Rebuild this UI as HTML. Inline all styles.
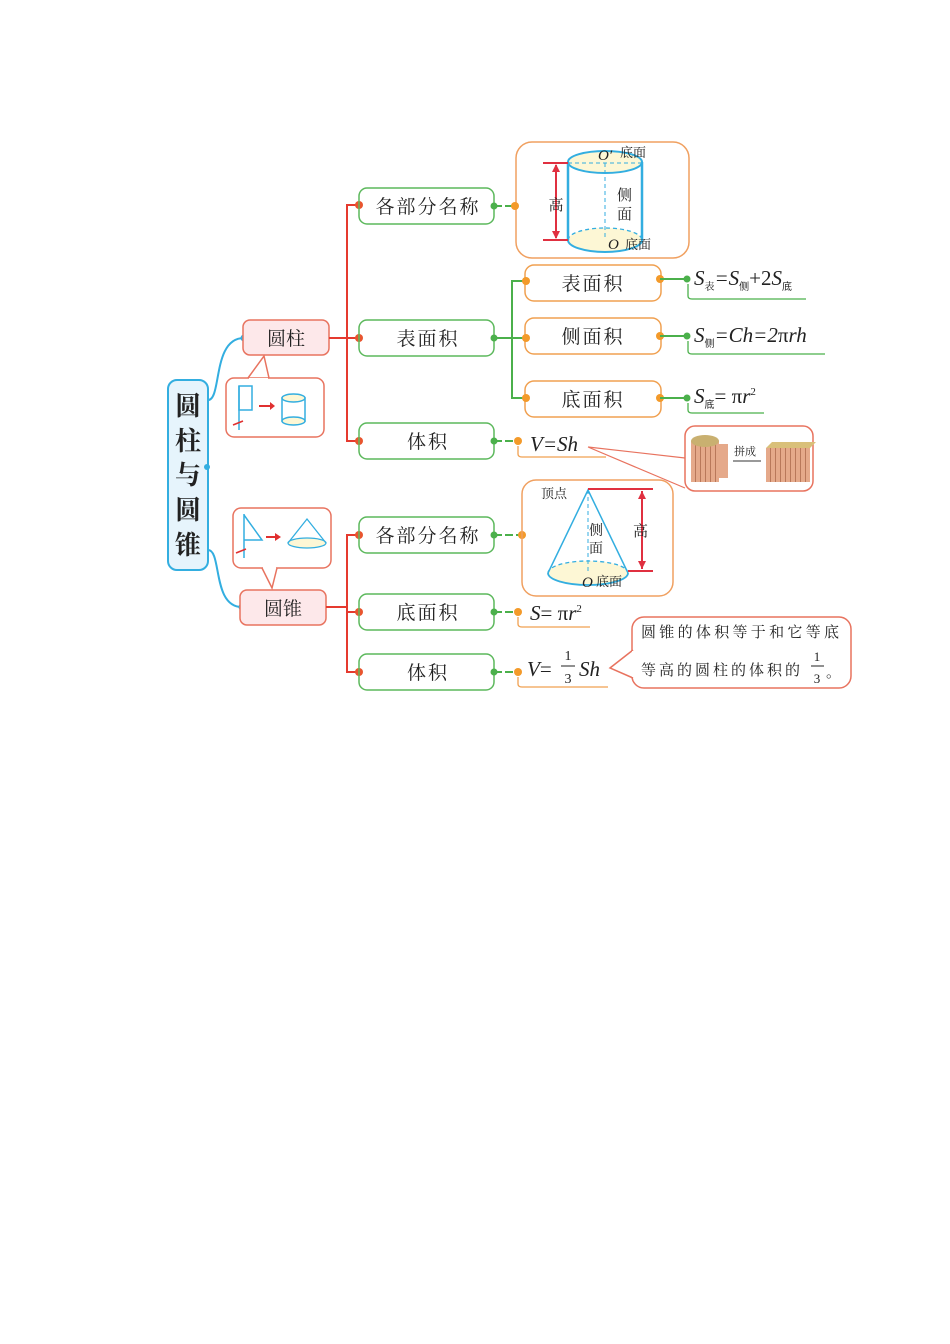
<!DOCTYPE html>
<html><head><meta charset="utf-8"><style>
html,body{margin:0;padding:0;background:#fff;}
svg{display:block;}
text{font-family:"Liberation Serif","Noto Serif CJK SC",serif;fill:#222;}
.k{font-family:"Noto Serif CJK SC","Liberation Serif",serif;}
.m{font-family:"Liberation Serif",serif;font-style:italic;}
</style></head><body>
<svg width="950" height="1344" viewBox="0 0 950 1344" xmlns="http://www.w3.org/2000/svg">
<defs>
<pattern id="st" width="5" height="10" patternUnits="userSpaceOnUse"><rect width="5" height="10" fill="#e5a98a"/><rect width="1" height="10" fill="#b9785a"/></pattern>
</defs>
<rect x="168" y="380" width="40" height="190" rx="9" fill="#e6f4fc" stroke="#33aee0" stroke-width="2"/>
<g class="k" font-size="26" font-weight="bold" text-anchor="middle">
<text x="188" y="415" class="k">圆</text><text x="188" y="450" class="k">柱</text><text x="188" y="484" class="k">与</text><text x="188" y="519" class="k">圆</text><text x="188" y="554" class="k">锥</text></g>
<circle cx="207" cy="467" r="3" fill="#33aee0"/>
<path d="M208 400 C222 400 212 338 244 338" fill="none" stroke="#33aee0" stroke-width="2"/>
<path d="M208 550 C222 550 212 607 242 607" fill="none" stroke="#33aee0" stroke-width="2"/>
<circle cx="244" cy="338" r="3.5" fill="#33aee0"/><circle cx="242" cy="607" r="3.5" fill="#33aee0"/>
<rect x="243" y="320" width="86" height="35" rx="7" fill="#fde8ea" stroke="#e8735f" stroke-width="1.5"/>
<text x="286" y="345" font-size="19" text-anchor="middle" class="k">圆柱</text>
<path d="M248 378 L264 356 L269 378" fill="#fff" stroke="#e8735f" stroke-width="1.5"/>
<rect x="226" y="378" width="98" height="59" rx="8" fill="none" stroke="#e8735f" stroke-width="1.5"/>
<line x1="249" y1="379" x2="268" y2="379" stroke="#fff" stroke-width="2"/>
<line x1="239" y1="386" x2="239" y2="430" stroke="#33aee0" stroke-width="1.5"/>
<rect x="239" y="386" width="13" height="24" fill="none" stroke="#33aee0" stroke-width="1.5"/>
<path d="M233 425 l10 -4" stroke="#e03030" stroke-width="1.5"/>
<path d="M259 406 h12" stroke="#e03030" stroke-width="2"/><path d="M270 402 l5 4 -5 4z" fill="#e03030"/>
<rect x="282" y="398" width="23" height="23" fill="#fff" stroke="#33aee0" stroke-width="1.5"/>
<ellipse cx="293.5" cy="398" rx="11.5" ry="4" fill="#fdf7d5" stroke="#33aee0" stroke-width="1.5"/>
<ellipse cx="293.5" cy="421" rx="11.5" ry="4" fill="#fdf7d5" stroke="#33aee0" stroke-width="1.5"/>
<rect x="240" y="590" width="86" height="35" rx="7" fill="#fde8ea" stroke="#e8735f" stroke-width="1.5"/>
<text x="283" y="615" font-size="19" text-anchor="middle" class="k">圆锥</text>
<rect x="233" y="508" width="98" height="60" rx="8" fill="none" stroke="#e8735f" stroke-width="1.5"/>
<path d="M262 568 L272 588 L277 568" fill="#fff" stroke="#e8735f" stroke-width="1.5"/>
<line x1="263" y1="567" x2="276" y2="567" stroke="#fff" stroke-width="2"/>
<line x1="244" y1="514" x2="244" y2="558" stroke="#33aee0" stroke-width="1.5"/>
<path d="M244 515 L262 540 L244 540" fill="none" stroke="#33aee0" stroke-width="1.5"/>
<path d="M236 553 l10 -4" stroke="#e03030" stroke-width="1.5"/>
<path d="M266 537 h10" stroke="#e03030" stroke-width="2"/><path d="M275 533 l6 4 -6 4z" fill="#e03030"/>
<ellipse cx="307" cy="543" rx="19" ry="5" fill="#fdf7d5" stroke="#33aee0" stroke-width="1.3"/>
<path d="M288 543 L307 519 L326 543" fill="none" stroke="#33aee0" stroke-width="1.3"/>
<g stroke="#e53a2f" stroke-width="2" fill="none">
<path d="M329 338 H347 M359 205 H347 V441 H359 M347 338 H359"/>
<path d="M326 607 H347 M359 535 H347 V672 H359 M347 612 H359"/>
</g>
<g fill="#e8552f"><circle cx="359" cy="205" r="4"/><circle cx="359" cy="338" r="4"/><circle cx="359" cy="441" r="4"/><circle cx="359" cy="535" r="4"/><circle cx="359" cy="612" r="4"/><circle cx="359" cy="672" r="4"/></g>
<g fill="none" stroke="#5cb85c" stroke-width="1.5">
<rect x="359" y="188" width="135" height="36" rx="8"/><rect x="359" y="320" width="135" height="36" rx="8"/><rect x="359" y="423" width="135" height="36" rx="8"/>
<rect x="359" y="517" width="135" height="36" rx="8"/><rect x="359" y="594" width="135" height="36" rx="8"/><rect x="359" y="654" width="135" height="36" rx="8"/>
</g>
<g font-size="19" text-anchor="middle" class="k" letter-spacing="2">
<text x="428" y="213" class="k">各部分名称</text><text x="428" y="345" class="k">表面积</text><text x="428" y="448" class="k">体积</text>
<text x="428" y="542" class="k">各部分名称</text><text x="428" y="619" class="k">底面积</text><text x="428" y="679" class="k">体积</text></g>
<g stroke="#4bb04b" stroke-width="2"><path d="M494 206 H514 M494 441 H518 M494 535 H522 M494 612 H518 M494 672 H518" stroke-dasharray="8 3"/></g>
<path d="M494 338 H512 M525 281 H512 V398 H525 M512 338 H525" stroke="#4bb04b" stroke-width="2" fill="none"/>
<g fill="#4bb04b"><circle cx="494" cy="206" r="3.5"/><circle cx="494" cy="338" r="3.5"/><circle cx="494" cy="441" r="3.5"/><circle cx="494" cy="535" r="3.5"/><circle cx="494" cy="612" r="3.5"/><circle cx="494" cy="672" r="3.5"/></g>
<rect x="516" y="142" width="173" height="116" rx="16" fill="none" stroke="#f0a060" stroke-width="1.5"/>
<circle cx="515" cy="206" r="4" fill="#f39a2a"/>
<rect x="569" y="163" width="73" height="78" fill="#fff"/>
<ellipse cx="605" cy="240" rx="37" ry="12" fill="#fdf7d5" stroke="none"/>
<path d="M568 240 A37 12 0 0 1 642 240" fill="none" stroke="#33aee0" stroke-dasharray="4 3" stroke-width="1.3"/>
<path d="M568 240 A37 12 0 0 0 642 240" fill="none" stroke="#33aee0" stroke-width="2"/>
<ellipse cx="605" cy="162" rx="37" ry="11" fill="#fdf7d5" stroke="#33aee0" stroke-width="2"/>
<line x1="568" y1="163" x2="642" y2="163" stroke="#33aee0" stroke-dasharray="4 3"/>
<line x1="605" y1="163" x2="605" y2="240" stroke="#33aee0" stroke-dasharray="4 3"/>
<line x1="568" y1="162" x2="568" y2="240" stroke="#33aee0" stroke-width="2.5"/>
<line x1="642" y1="162" x2="642" y2="240" stroke="#33aee0" stroke-width="2.5"/>
<path d="M543 163 H568 M543 240 H568 M556 165 V238" stroke="#e03040" stroke-width="2"/>
<path d="M552 172 l4 -8 4 8z M552 231 l4 8 4 -8z" fill="#e03040"/>
<text x="556" y="210" font-size="15" text-anchor="middle" class="k">高</text>
<text x="598" y="160" font-size="15" class="m">O′</text><text x="620" y="157" font-size="13" class="k">底面</text>
<text x="617" y="200" font-size="15" class="k">侧</text><text x="617" y="219" font-size="15" class="k">面</text>
<text x="608" y="249" font-size="15" class="m">O</text><text x="625" y="249" font-size="13" class="k">底面</text>
<g fill="none" stroke="#f0a050" stroke-width="1.5">
<rect x="525" y="265" width="136" height="36" rx="9"/><rect x="525" y="318" width="136" height="36" rx="9"/><rect x="525" y="381" width="136" height="36" rx="9"/></g>
<g font-size="19" text-anchor="middle" class="k" letter-spacing="2"><text x="593" y="290" class="k">表面积</text><text x="593" y="343" class="k">侧面积</text><text x="593" y="406" class="k">底面积</text></g>
<g fill="#f39a2a"><circle cx="526" cy="281" r="4"/><circle cx="526" cy="338" r="4"/><circle cx="526" cy="398" r="4"/><circle cx="660" cy="279" r="4"/><circle cx="660" cy="336" r="4"/><circle cx="660" cy="398" r="4"/>
<circle cx="518" cy="441" r="4"/><circle cx="522" cy="535" r="4"/><circle cx="518" cy="612" r="4"/><circle cx="518" cy="672" r="4"/></g>
<path d="M660 279 H687 M660 336 H687 M660 398 H687" stroke="#4bb04b" stroke-width="2"/>
<g fill="#4bb04b"><circle cx="687" cy="279" r="3.5"/><circle cx="687" cy="336" r="3.5"/><circle cx="687" cy="398" r="3.5"/></g>
<g fill="none" stroke="#4bb04b" stroke-width="1.3"><path d="M688 284 V296 Q688 299 692 299 H806"/><path d="M688 341 V351 Q688 354 692 354 H825"/><path d="M688 403 V410 Q688 413 692 413 H764"/></g>
<text x="694" y="285" font-size="21" class="m">S<tspan font-size="10" dy="5" font-style="normal" class="k">表</tspan><tspan dy="-5">=S</tspan><tspan font-size="10" dy="5" font-style="normal">侧</tspan><tspan dy="-5" font-style="normal">+2</tspan><tspan dy="0">S</tspan><tspan font-size="10" dy="5" font-style="normal">底</tspan></text>
<text x="694" y="342" font-size="21" class="m">S<tspan font-size="10" dy="5" font-style="normal">侧</tspan><tspan dy="-5">=Ch=2</tspan><tspan font-style="normal">π</tspan>rh</text>
<text x="694" y="403" font-size="21" class="m">S<tspan font-size="10" dy="5" font-style="normal">底</tspan><tspan dy="-5" font-style="normal">= π</tspan>r<tspan font-size="11" dy="-8" font-style="normal">2</tspan></text>
<path d="M518 446 V454 Q518 457 522 457 H606" fill="none" stroke="#f0a050" stroke-width="1.3"/>
<text x="530" y="451" font-size="21" class="m">V=Sh</text>
<path d="M588 447 L685 488 M588 447 L685 458" stroke="#e8735f" stroke-width="1.2"/>
<rect x="685" y="426" width="128" height="65" rx="10" fill="#fff" stroke="#e8735f" stroke-width="1.5"/>
<rect x="691" y="441" width="28" height="41" fill="url(#st)"/>
<ellipse cx="705" cy="441" rx="14" ry="6" fill="#c9b070"/>
<rect x="719" y="444" width="9" height="34" fill="#e5a98a"/>
<text x="734" y="455" font-size="11" class="k">拼成</text>
<line x1="733" y1="461" x2="761" y2="461" stroke="#333"/>
<rect x="766" y="448" width="44" height="34" fill="url(#st)"/>
<path d="M766 448 l6 -6 h44 l-6 6z" fill="#d9c07a"/>
<rect x="522" y="480" width="151" height="116" rx="14" fill="none" stroke="#f0a060" stroke-width="1.5"/>
<ellipse cx="588" cy="573" rx="40" ry="12" fill="#fdf7d5"/>
<path d="M548 573 A40 12 0 0 1 628 573" fill="none" stroke="#33aee0" stroke-dasharray="4 3" stroke-width="1.3"/>
<path d="M548 573 A40 12 0 0 0 628 573" fill="none" stroke="#33aee0" stroke-width="1.8"/>
<path d="M548 573 L588 490 L628 573" fill="none" stroke="#33aee0" stroke-width="1.5"/>
<line x1="588" y1="490" x2="588" y2="573" stroke="#33aee0" stroke-dasharray="4 3"/>
<path d="M588 489 H653 M628 571 H653 M642 491 V569" stroke="#e03040" stroke-width="2"/>
<path d="M638 499 l4 -8 4 8z M638 561 l4 8 4 -8z" fill="#e03040"/>
<text x="541" y="498" font-size="13" class="k">顶点</text>
<text x="589" y="535" font-size="14" class="k">侧</text><text x="589" y="553" font-size="14" class="k">面</text>
<text x="633" y="536" font-size="15" class="k">高</text>
<text x="582" y="587" font-size="15" class="m">O</text><text x="596" y="586" font-size="13" class="k">底面</text>
<path d="M518 617 V624 Q518 627 522 627 H590" fill="none" stroke="#f0a050" stroke-width="1.3"/>
<text x="530" y="620" font-size="21" class="m">S<tspan font-style="normal">= π</tspan>r<tspan font-size="11" dy="-8" font-style="normal">2</tspan></text>
<path d="M518 677 V684 Q518 687 522 687 H608" fill="none" stroke="#f0a050" stroke-width="1.3"/>
<text x="527" y="676" font-size="21" class="m">V<tspan font-style="normal">=</tspan></text>
<text x="568" y="660" font-size="14" text-anchor="middle">1</text><line x1="561" y1="666" x2="575" y2="666" stroke="#222"/><text x="568" y="683" font-size="14" text-anchor="middle">3</text>
<text x="579" y="676" font-size="21" class="m">Sh</text>
<rect x="632" y="617" width="219" height="71" rx="12" fill="#fff" stroke="#e8735f" stroke-width="1.5"/>
<path d="M633 650 L610 668 L633 678" fill="#fff" stroke="#e8735f" stroke-width="1.5"/>
<line x1="633" y1="651" x2="633" y2="677" stroke="#fff" stroke-width="2"/>
<text x="641" y="637" font-size="15" class="k" letter-spacing="3.3">圆锥的体积等于和它等底</text>
<text x="641" y="675" font-size="15" class="k" letter-spacing="3">等高的圆柱的体积的</text>
<text x="817" y="661" font-size="13" text-anchor="middle">1</text><line x1="811" y1="666" x2="824" y2="666" stroke="#222"/><text x="817" y="683" font-size="13" text-anchor="middle">3</text>
<text x="826" y="677" font-size="15" class="k">。</text>
</svg>
</body></html>
